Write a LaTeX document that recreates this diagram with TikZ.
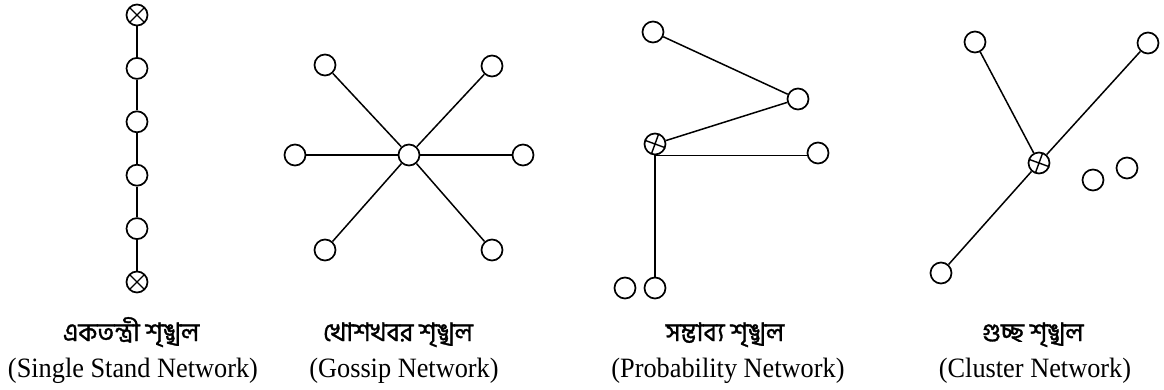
\documentclass[tikz,border=0pt]{standalone}
\usepackage{fontspec}
\setmainfont{Liberation Serif}[FakeStretch=0.94]
\newfontfamily\bnfont{Hind Siliguri}[Script=Bengali,FakeBold=1.2]
\usetikzlibrary{calc}

\tikzset{
  member/.style={circle,draw,line width=1.7pt,minimum size=21pt,inner sep=0pt},
  hub/.style={member,path picture={\draw[line width=1.4pt]
      (path picture bounding box.center) ++(#1:12pt) -- ++({#1+180}:24pt)
      (path picture bounding box.center) ++({#1+90}:12pt) -- ++({#1+270}:24pt);}},
  link/.style={line width=1.5pt},
  bntitle/.style={anchor=base,font=\bnfont\fontsize{25.5}{28}\selectfont},
  entitle/.style={anchor=base,font=\fontsize{28}{32}\selectfont},
}

\begin{document}
\begin{tikzpicture}[x=1pt,y=-1pt]
\useasboundingbox (0,0) rectangle (1164,390);

% single stand
\node[hub=45] (s0) at (137,15) {};
\foreach \i in {1,...,4} \node[member] (s\i) at (137,15+53.4*\i) {};
\node[hub=45] (s5) at (137,282) {};
\foreach \i/\j in {0/1,1/2,2/3,3/4,4/5} \draw[link] (s\i) -- (s\j);

% gossip
\node[member] (g0) at (409,155) {};
\foreach \n/\x/\y in {1/325/65,2/492/66,3/295/155,4/523/155,5/325/250,6/492/250}{
  \node[member] (g\n) at (\x,\y) {};
  \draw[link] (g0) -- (g\n);
}

% probability
\node[hub=-20] (p0) at (655,144) {};
\node[member] (p1) at (653,32) {};
\node[member] (p2) at (798,99) {};
\node[member] (p3) at (818,153) {};
\node[member] (p4) at (655,288) {};
\node[member] (p5) at (625,288) {};
\draw[link] (p1) -- (p2) -- (p0);
\draw[link] (p0.south) -- (p0.south -| p3.west);
\draw[link] (p0.south) -- (p4.north);

% cluster
\node[hub=-20] (k0) at (1039,163) {};
\node[member] (k1) at (975,42) {};
\node[member] (k2) at (1148,43) {};
\node[member] (k3) at (941,273) {};
\node[member] (k4) at (1093,180) {};
\node[member] (k5) at (1127,168) {};
\draw[link] (k1) -- (k0) (k2) -- (k0) -- (k3);

\node[bntitle] (b1) at (131,341) {একতন্ত্রী শৃঙ্খল};
\node[entitle] (e1) at (133,377) {(Single Stand Network)};
\node[bntitle] (b2) at (398,341) {খোশখবর শৃঙ্খল};
\node[entitle] (e2) at (404,377) {(Gossip Network)};
\node[bntitle] (b3) at (725,341) {সম্ভাব্য শৃঙ্খল};
\node[entitle] (e3) at (728,377) {(Probability Network)};
\node[bntitle] (b4) at (1033,341) {গুচ্ছ শৃঙ্খল};
\node[entitle] (e4) at (1035,377) {(Cluster Network)};
\end{tikzpicture}
\end{document}
